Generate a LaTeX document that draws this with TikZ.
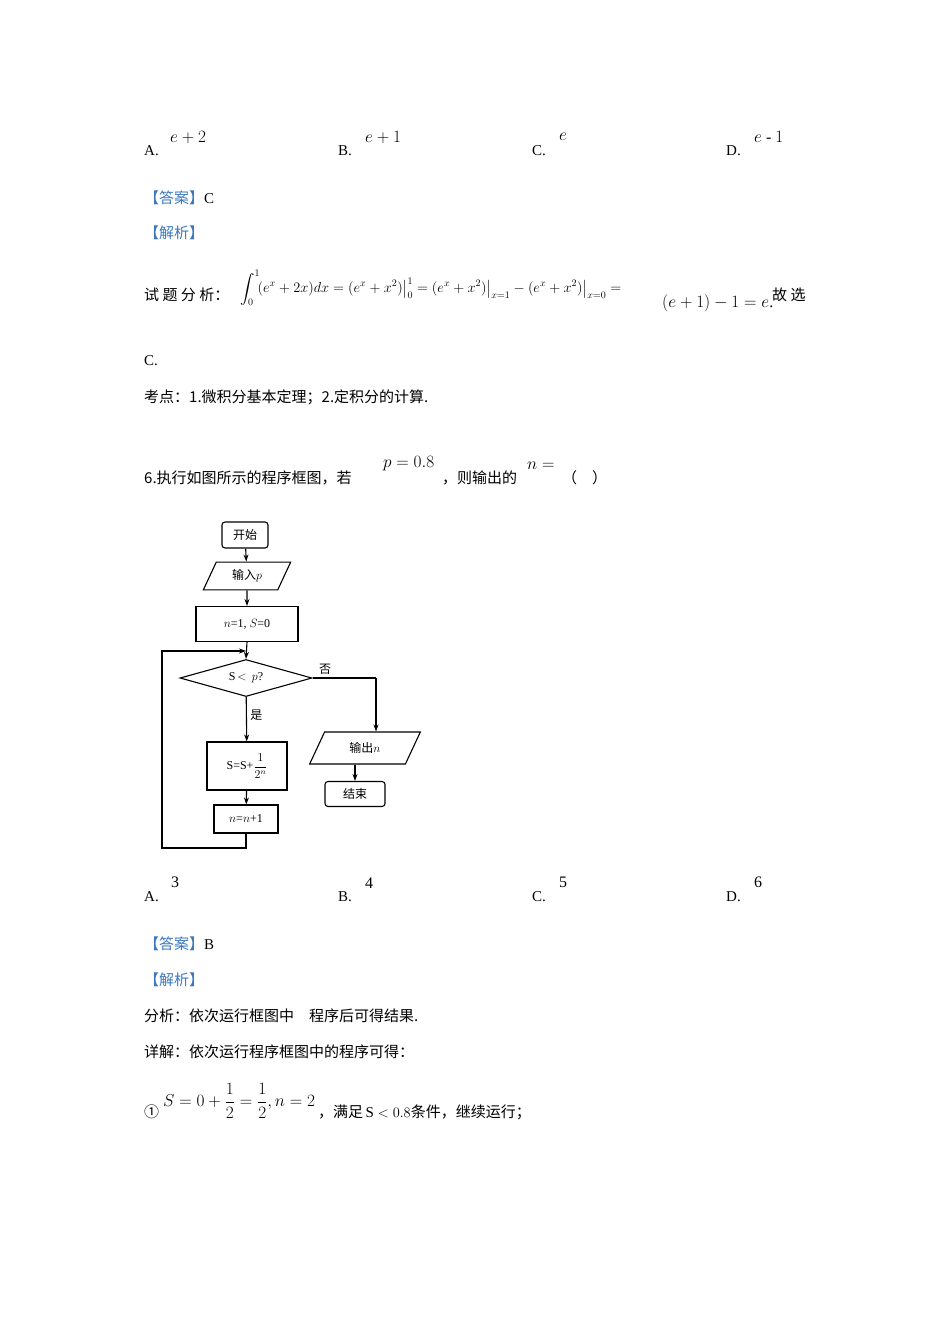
\documentclass[tikz,border=0pt]{standalone}
\usepackage{fontspec}
\usepackage{amsmath}
\setmainfont{Liberation Serif}
\newfontfamily\cjk{Noto Sans CJK SC}
\usetikzlibrary{shapes.geometric,arrows.meta,calc}
\definecolor{hd}{RGB}{60,120,190}
\begin{document}
\begin{tikzpicture}[x=1pt,y=-1pt,
  tx/.style={anchor=west,inner sep=0pt,font=\fontsize{15}{17}\selectfont},
  mx/.style={anchor=west,inner sep=0pt,font=\fontsize{16}{18}\selectfont},
  box/.style={draw,line width=1.1pt,minimum width=#1,minimum height=26pt,inner sep=2pt,font=\fontsize{12}{14}\selectfont},
  rbox/.style={box=#1,rounded corners=3pt},
  para/.style={draw,line width=1.1pt,trapezium,trapezium left angle=65,trapezium right angle=115,minimum width=#1,minimum height=28pt,inner sep=1pt,font=\fontsize{12}{14}\selectfont},
  dia/.style={draw,line width=1.1pt,diamond,aspect=3.6,minimum width=132pt,minimum height=37pt,inner sep=0pt,font=\fontsize{12}{14}\selectfont},
  ar/.style={line width=1.1pt,-{Stealth[length=7pt,width=5pt]}},
  ln/.style={line width=1.1pt}]
\useasboundingbox (0,0) rectangle (950,1344);
\fill[white] (0,0) rectangle (950,1344);
% options line 1
\node[tx] (a1) at (144,151) {A.};
\node[mx] (a1v) at (170,137) {$e+2$};
\node[tx] (b1) at (338,151) {B.};
\node[mx] (b1v) at (365,137) {$e+1$};
\node[tx] (c1) at (532,151) {C.};
\node[mx] (c1v) at (559,137) {$e$};
\node[tx] (d1) at (726,151) {D.};
\node[mx] (d1v) at (754,137) {$e$ - $1$};
\node[tx] (ans1) at (144,198) {{\cjk\color{hd}【答案】}C};
\node[tx] (jx1) at (144,233) {\cjk\color{hd}【解析】};
\node[tx] (fx) at (144,295) {\cjk 试 题 分 析：};
\node[anchor=west,inner sep=0pt,font=\fontsize{14.4}{16}\selectfont] (f1) at (240,288) {$\displaystyle\int_0^1\!(e^x+2x)dx=(e^x+x^2)\big|_0^1=(e^x+x^2)\big|_{x=1}-(e^x+x^2)\big|_{x=0}=$};
\node[mx] (f2) at (662,303) {$(e+1)-1=e$.};
\node[tx] (gx) at (772,295) {\cjk 故 选};
\node[tx] (c2) at (144,361) {C.};
\node[tx] (kd) at (144,397) {\cjk 考点：1.微积分基本定理；2.定积分的计算.};
\node[tx] (q6) at (144,478) {\cjk 6.执行如图所示的程序框图，若};
\node[mx] (p08) at (383,464) {$p=0.8$};
\node[tx] (q6b) at (442,478) {\cjk ，则输出的};
\node[mx] (neq) at (527,466) {$n=$};
\node[tx] (q6c) at (562,478) {\cjk （\quad ）};
% flowchart
\node[rbox=46pt] (start) at (245,535) {\cjk 开始};
\node[para=88pt] (in) at (247,576) {{\cjk 输入}$p$};
\node[box=102pt,minimum height=35pt] (init) at (247,624) {$n$=1, $S$=0};
\node[dia] (cond) at (246,678) {S\,$<\,p$?};
\node[box=80pt,minimum height=48pt] (upd) at (247,766) {S=S+$\dfrac{1}{2^n}$};
\node[box=64pt,minimum height=28pt] (inc) at (246,819) {$n$=$n$+1};
\node[para=84pt,minimum height=32pt] (out) at (365,748) {{\cjk 输出}$n$};
\node[rbox=60pt,minimum height=25pt] (end) at (355,794) {\cjk 结束};
\coordinate (j) at (246,651);
\coordinate (r) at (376,678);
\coordinate (bl) at (162,848);
\draw[ar] (start) -- (in);
\draw[ar] (in) -- (init);
\draw[ar] (init.south) -- (cond.north);
\draw[ar] (cond) -- node[right,pos=0.4,font=\cjk\fontsize{12}{14}\selectfont]{是} (upd);
\draw[ar] (upd) -- (inc);
\draw[ln] (cond.east) -- node[above,pos=0.2,font=\cjk\fontsize{12}{14}\selectfont]{否} (r);
\draw[ar] (r) -- (r |- out.north);
\draw[ar] (out.south -| end) -- (end);
\draw[ar] (inc.south) |- (bl) |- (j);
% options line 2
\node[tx] (a2) at (144,897) {A.};
\node[mx] (a2v) at (171,882) {3};
\node[tx] (b2) at (338,897) {B.};
\node[mx] (b2v) at (365,883) {4};
\node[tx] (c3) at (532,897) {C.};
\node[mx] (c3v) at (559,882) {5};
\node[tx] (d2) at (726,897) {D.};
\node[mx] (d2v) at (754,882) {6};
\node[tx] (ans2) at (144,944) {{\cjk\color{hd}【答案】}B};
\node[tx] (jx2) at (144,980) {\cjk\color{hd}【解析】};
\node[tx] (fx2) at (144,1016) {\cjk 分析：依次运行框图中\quad 程序后可得结果.};
\node[tx] (xj) at (144,1052) {\cjk 详解：依次运行程序框图中的程序可得：};
\node[tx] (o1) at (144,1112) {\cjk ①};
\node[mx] (o1f) at (163,1101) {$S=0+\dfrac12=\dfrac12,n=2$};
\node[tx] (o1t) at (318,1112) {{\cjk ，满足}\,S $<0.8${\cjk 条件，继续运行；}};
\end{tikzpicture}
\end{document}
